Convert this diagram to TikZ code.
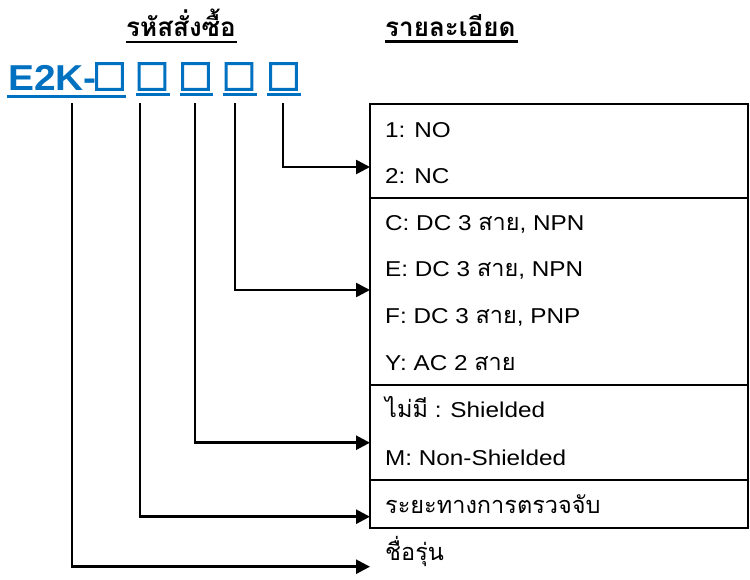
\documentclass[tikz,border=0pt]{standalone}
\usepackage{fontspec}
\setmainfont[FakeStretch=1.13]{Liberation Sans}
\newfontfamily\thai[Script=Thai]{Loma}
\newfontfamily\codefont[FakeStretch=1.08]{Liberation Sans}
\newfontfamily\sqfont[FakeBold=3]{Liberation Sans}
\usetikzlibrary{arrows.meta}
\definecolor{codeblue}{RGB}{0,112,192}
\newcommand{\thaitxt}[1]{{\fontsize{23.5}{24}\selectfont\thai #1}}
\tikzset{
  rowtext/.style={anchor=base west, inner sep=0pt, font=\fontsize{21.5}{24}\selectfont},
  headtext/.style={anchor=base west, inner sep=0pt, font=\fontsize{26}{30}\selectfont\thai\bfseries},
  codetext/.style={anchor=base west, inner sep=0pt, text=codeblue, font=\fontsize{36}{40}\selectfont\codefont\bfseries},
  sqtext/.style={inner sep=0pt, text=codeblue, font=\fontsize{46}{50}\selectfont\sqfont},
  codeline/.style={draw=codeblue, line width=3pt},
  headline/.style={line width=2.5pt},
  conn/.style={line width=2.6pt, -{Triangle[length=14pt,width=14pt]}},
  boxline/.style={line width=2pt},
}
\begin{document}
\begin{tikzpicture}[x=1pt,y=-1pt]
\useasboundingbox (0,0) rectangle (750,579);
% headings
\node[headtext] (h1) at (126,36.7) {รหัสสั่งซื้อ};
\node[headtext] (h2) at (385,36.7) {รายละเอียด};
\draw[headline] (h1.base west) ++(0,5.3) -- ++(111,0);
\draw[headline] (h2.base west) ++(0,5) -- ++(133,0);
% code
\node[codetext] (code) at (8,90.7) {E2K-};
\node[sqtext] (q1) at (109.5,76.5) {□};
\node[sqtext] (q2) at (152,76.5) {□};
\node[sqtext] (q3) at (195.5,76.5) {□};
\node[sqtext] (q4) at (239,76.5) {□};
\node[sqtext] (q5) at (283.5,76.5) {□};
\draw[codeline] (7,96) -- (126,96);
\draw[codeline] (136,94.5) -- (170,94.5);
\draw[codeline] (180,94.5) -- (213,94.5);
\draw[codeline] (223,94.5) -- (257,94.5);
\draw[codeline] (267,94.5) -- (301,94.5);
% box
\draw[boxline] (370,104) rectangle (748,528);
\draw[boxline] (370,198) -- (748,198);
\draw[boxline] (370,385) -- (748,385);
\draw[boxline] (370,480) -- (748,480);
% rows
\node[rowtext] (r1) at (385,137.7) {1: NO};
\node[rowtext] (r2) at (385,183) {2: NC};
\node[rowtext] (r3) at (385,230) {C: DC 3 \thaitxt{สาย}, NPN};
\node[rowtext] (r4) at (385,276.7) {E: DC 3 \thaitxt{สาย}, NPN};
\node[rowtext] (r5) at (385,323) {F: DC 3 \thaitxt{สาย}, PNP};
\node[rowtext] (r6) at (385,370) {Y: AC 2 \thaitxt{สาย}};
\node[rowtext] (r7) at (385,417) {\thaitxt{ไม่มี} : Shielded};
\node[rowtext] (r8) at (385,465) {M: Non-Shielded};
\node[rowtext] (r9) at (385,513) {\thaitxt{ระยะทางการตรวจจับ}};
\node[rowtext] (r10) at (385,560) {\thaitxt{ชื่อรุ่น}};
% connectors
\coordinate (s1) at (72,103);
\coordinate (s2) at (140,103);
\coordinate (s3) at (195,103);
\coordinate (s4) at (235,103);
\coordinate (s5) at (283,103);
\coordinate (t1) at (370,566.7);
\coordinate (t2) at (370,516.7);
\coordinate (t3) at (370,442.7);
\coordinate (t4) at (370,290);
\coordinate (t5) at (370,167);
\draw[conn] (s1) |- (t1);
\draw[conn] (s2) |- (t2);
\draw[conn] (s3) |- (t3);
\draw[conn] (s4) |- (t4);
\draw[conn] (s5) |- (t5);
\end{tikzpicture}
\end{document}
